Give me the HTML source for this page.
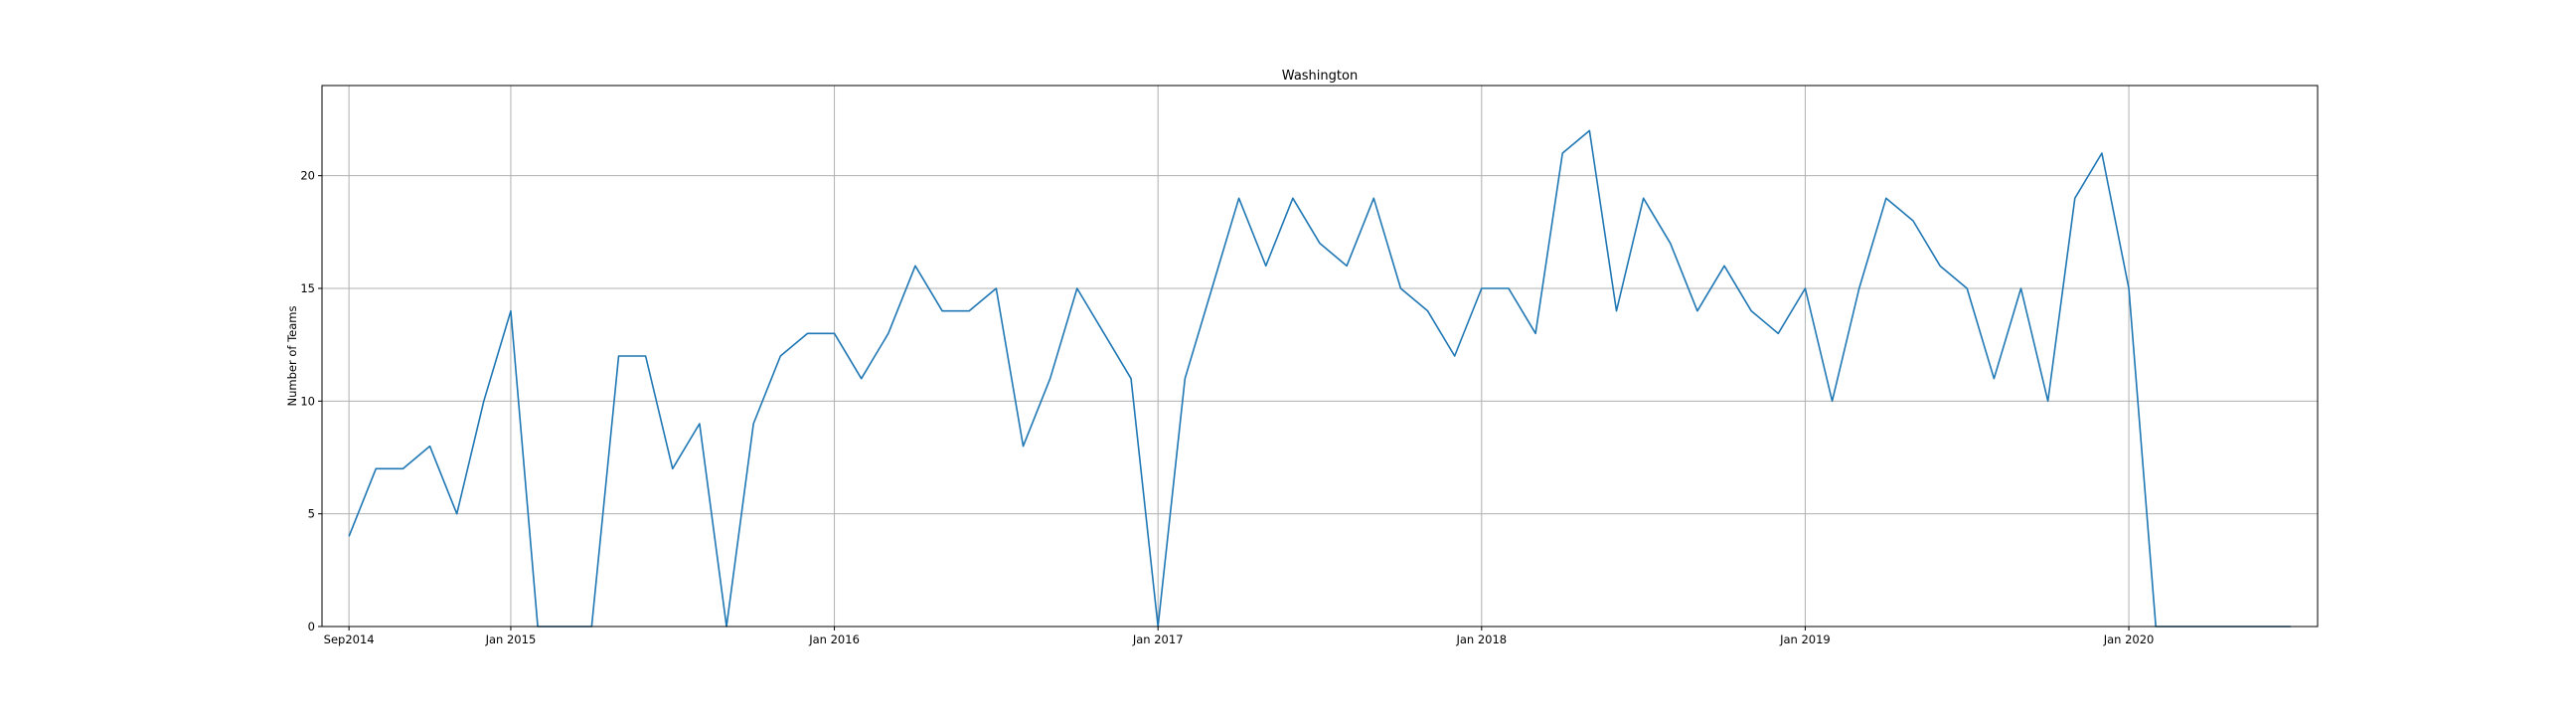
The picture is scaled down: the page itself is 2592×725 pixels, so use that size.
<!DOCTYPE html>
<html><head><meta charset="utf-8"><style>
html,body{margin:0;padding:0;background:#fff;}
svg text{font-family:"DejaVu Sans","Liberation Sans",sans-serif;fill:#000;}
</style></head><body>
<svg id="chart" width="2592" height="720" xmlns="http://www.w3.org/2000/svg">
<rect x="0" y="0" width="2592" height="720" fill="#fff"/>
<g id="grid"></g>
<g id="series"></g>
<rect x="324" y="86" width="2008" height="544" fill="none" stroke="#000" stroke-width="1"/>
<g id="ticks"></g>
<text x="1328" y="80" font-size="13" text-anchor="middle">Washington</text>
<text x="0" y="0" font-size="11.5" text-anchor="middle" transform="translate(298,358) rotate(-90)">Number of Teams</text>
</svg>
<script>
const values = [4,7,7,8,5,10,14,0,0,0,12,12,7,9,0,9,12,13,13,11,13,16,14,14,15,8,11,15,13,11,0,11,15,19,16,19,17,16,19,15,14,12,15,15,13,21,22,14,19,17,14,16,14,13,15,10,15,19,18,16,15,11,15,10,19,21,15,0,0,0,0,0,0];
const xTickIdx = [0,6,18,30,42,54,66];
const xTickLabels = ["Sep2014","Jan 2015","Jan 2016","Jan 2017","Jan 2018","Jan 2019","Jan 2020"];
const yTicks = [0,5,10,15,20];

const L=324,R=2332,T=86,B=630,XMIN=-1,XMAX=73,YMIN=0,YMAX=24;
const NS="http://www.w3.org/2000/svg";
const xs=i=>L+(i-XMIN)/(XMAX-XMIN)*(R-L);
const ys=v=>B-(v-YMIN)/(YMAX-YMIN)*(B-T);
function mk(tag,attrs,parent){const e=document.createElementNS(NS,tag);for(const k in attrs)e.setAttribute(k,attrs[k]);parent.appendChild(e);return e;}
const grid=document.getElementById('grid'),ticks=document.getElementById('ticks'),series=document.getElementById('series');
yTicks.forEach(v=>{
  const y=ys(v);
  const g=mk('line',{x1:L,x2:R,y1:y,y2:y,stroke:'#b0b0b0','stroke-width':1},grid);
  
  
  const t=mk('line',{x1:L-4,x2:L,y1:y,y2:y,stroke:'#000'},ticks);
  
  
  const tx=mk('text',{x:L-7,y:y+4,'font-size':11.5,'text-anchor':'end'},ticks);
  tx.textContent=v;
  
  
});
xTickIdx.forEach((idx,k)=>{
  const x=xs(idx);
  const g=mk('line',{x1:x,x2:x,y1:T,y2:B,stroke:'#b0b0b0','stroke-width':1},grid);
  
  
  const t=mk('line',{x1:x,x2:x,y1:B,y2:B+4,stroke:'#000'},ticks);
  
  
  const tx=mk('text',{x:x,y:B+17,'font-size':11.5,'text-anchor':'middle'},ticks);
  tx.textContent=xTickLabels[k];
  
  
});
const pts=values.map((v,i)=>xs(i).toFixed(2)+','+ys(v).toFixed(2)).join(' ');
const line=mk('polyline',{points:pts,fill:'none',stroke:'#1f77b4','stroke-width':1.6,'stroke-linejoin':'round'},series);


</script>
</body></html>
